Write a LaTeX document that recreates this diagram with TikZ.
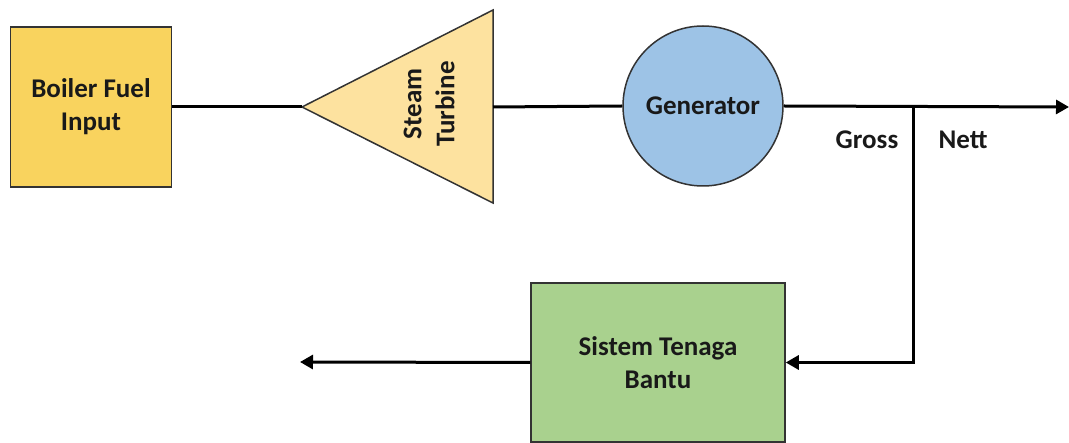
\documentclass[tikz,border=0pt]{standalone}
\usepackage{fontspec}
\setmainfont{Carlito}
\usetikzlibrary{arrows.meta}
\definecolor{boilerfill}{HTML}{F9D35E}
\definecolor{turbfill}{HTML}{FDE29F}
\definecolor{genfill}{HTML}{9DC3E6}
\definecolor{auxfill}{HTML}{A9D18E}
\definecolor{edgec}{HTML}{333333}
\tikzset{
  box/.style={draw=edgec, line width=1.5pt, inner sep=0pt, font=\bfseries\fontsize{27}{33}\selectfont, align=center, text=black!90},
  conn/.style={line width=3pt, black},
  tip/.style={-{Triangle[length=13pt,width=14pt]}},
  lbl/.style={font=\bfseries\fontsize{27}{33}\selectfont, text=black!90},
}
\begin{document}
\begin{tikzpicture}[x=1pt,y=-1pt]
\useasboundingbox (0,0) rectangle (1069,443);
% Boiler
\node[box, fill=boilerfill, minimum width=161pt, minimum height=160pt] (boiler) at (91,107) {Boiler Fuel\\Input};
% Turbine
\coordinate (ttip) at (302,107);
\coordinate (ttop) at (493,10);
\coordinate (tbot) at (493,203);
\coordinate (tright) at (493,107);
\draw[draw=edgec, line width=1.5pt, fill=turbfill, line join=miter] (ttip) -- (ttop) -- (tbot) -- cycle;
\node[lbl, rotate=90, align=center] (turbine) at (429,104) {Steam\\Turbine};
% Generator
\node[box, circle, fill=genfill, minimum size=160pt] (gen) at (703,106) {Generator};
% Aux
\node[box, fill=auxfill, minimum width=254pt, minimum height=159pt] (aux) at (658,362.5) {Sistem Tenaga\\Bantu};
% connectors
\coordinate (junc) at (913,107);
\coordinate (nettend) at (1069,107);
\coordinate (auxout) at (300,362);
\draw[conn] (boiler.east) -- (ttip);
\draw[conn] (tright) -- (gen.west);
\draw[conn, tip] (gen.east) -- (nettend);
\draw[conn, tip] (junc) |- (aux.east);
\draw[conn, tip] (aux.west) -- (auxout);
% labels
\node[lbl] (gross) at (867,140) {Gross};
\node[lbl] (nett) at (963,140) {Nett};
\end{tikzpicture}
\end{document}
